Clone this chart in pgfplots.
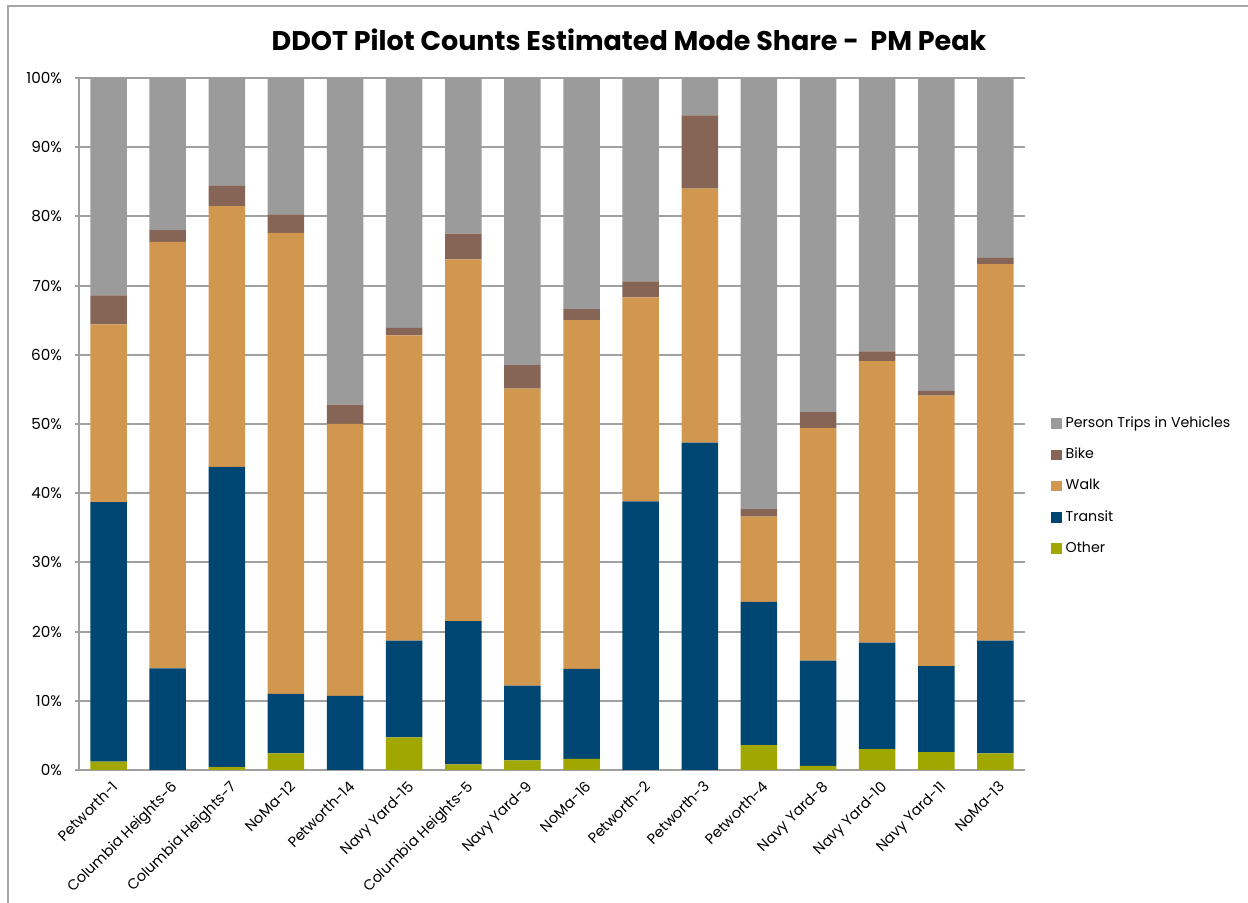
\documentclass[border=0pt]{standalone}
\usepackage{pgfplots}
\pgfplotsset{compat=1.18}
\usepackage{pgfplotstable}
\usepackage{fontspec}
\setmainfont{Poppins}

\definecolor{vehgray}{HTML}{9B9B9B}
\definecolor{bikebrown}{HTML}{866556}
\definecolor{walkorange}{HTML}{D2974E}
\definecolor{transitblue}{HTML}{004672}
\definecolor{otherolive}{HTML}{A0A800}
\definecolor{framegray}{HTML}{A6A6A6}
\definecolor{gridgray}{HTML}{A0A0A0}

% mode share in percent, bars bottom to top
\pgfplotstableread{
x other transit walk bike veh
0  1.2 37.5 25.7  4.2 31.4
1  0.0 14.7 61.6  1.7 22.0
2  0.4 43.4 37.7  2.9 15.6
3  2.4  8.6 66.6  2.7 19.7
4  0.0 10.7 39.3  2.8 47.2
5  4.7 14.0 44.1  1.1 36.1
6  0.8 20.7 52.3  3.7 22.5
7  1.4 10.8 42.9  3.4 41.5
8  1.6 13.0 50.4  1.6 33.4
9  0.0 38.8 29.5  2.3 29.4
10 0.0 47.3 36.7 10.6  5.4
11 3.6 20.7 12.3  1.1 62.3
12 0.6 15.2 33.6  2.3 48.3
13 3.0 15.4 40.7  1.4 39.5
14 2.6 12.4 39.1  0.7 45.2
15 2.4 16.3 54.4  0.9 26.0
}\modeshare

\pgfplotsset{sq/.style={legend image code/.code={\fill[##1] (0pt,-2.6pt) rectangle (5.2pt,2.6pt);}}}

\begin{document}
\begin{tikzpicture}
\useasboundingbox (0pt,0pt) rectangle (624pt,451.5pt);
\draw[framegray, line width=0.9pt] (4pt,0pt) -- (4pt,448.3pt) -- (624pt,448.3pt);
\node[font=\fontsize{13.5}{16}\selectfont\bfseries] at (314.5pt,431.5pt) {DDOT Pilot Counts Estimated Mode Share -\ \ PM Peak};
\begin{axis}[
  at={(39.5pt,66.5pt)}, anchor=south west,
  width=473pt, height=346pt, scale only axis,
  ybar stacked, bar width=18.3pt,
  xmin=-0.5, xmax=15.5, ymin=0, ymax=100,
  axis lines*=left,
  axis line style={gridgray, line width=1pt},
  xtick=data,
  xticklabels={Petworth-1, Columbia Heights-6, Columbia Heights-7, NoMa-12, Petworth-14, Navy Yard-15, Columbia Heights-5, Navy Yard-9, NoMa-16, Petworth-2, Petworth-3, Petworth-4, Navy Yard-8, Navy Yard-10, Navy Yard-11, NoMa-13},
  x tick label style={rotate=45, anchor=north east, inner sep=1pt, yshift=-2pt, font=\fontsize{7.3}{9}\selectfont},
  x tick style={draw=none},
  ytick distance=10,
  yticklabel={\pgfmathprintnumber{\tick}\%},
  /pgf/number format/assume math mode=true,
  y tick label style={font=\fontsize{7.6}{9}\selectfont, xshift=-3pt},
  y tick style={gridgray, line width=1pt},
  tick align=outside, major tick length=2pt,
  ymajorgrids, grid style={gridgray, line width=1pt},
  legend style={at={(1.021,0.523)}, anchor=north west, draw=none,
    font=\fontsize{7.1}{8}\selectfont, row sep=4.8pt,
    /tikz/every even column/.append style={column sep=1pt}},
  legend cell align=left,
  reverse legend,
]
\addplot[fill=otherolive, draw=none, sq] table[x=x, y=other] {\modeshare};
\addlegendentry{Other}
\addplot[fill=transitblue, draw=none, sq] table[x=x, y=transit] {\modeshare};
\addlegendentry{Transit}
\addplot[fill=walkorange, draw=none, sq] table[x=x, y=walk] {\modeshare};
\addlegendentry{Walk}
\addplot[fill=bikebrown, draw=none, sq] table[x=x, y=bike] {\modeshare};
\addlegendentry{Bike}
\addplot[fill=vehgray, draw=none, sq] table[x=x, y=veh] {\modeshare};
\addlegendentry{Person Trips in Vehicles}
\end{axis}
\end{tikzpicture}
\end{document}
